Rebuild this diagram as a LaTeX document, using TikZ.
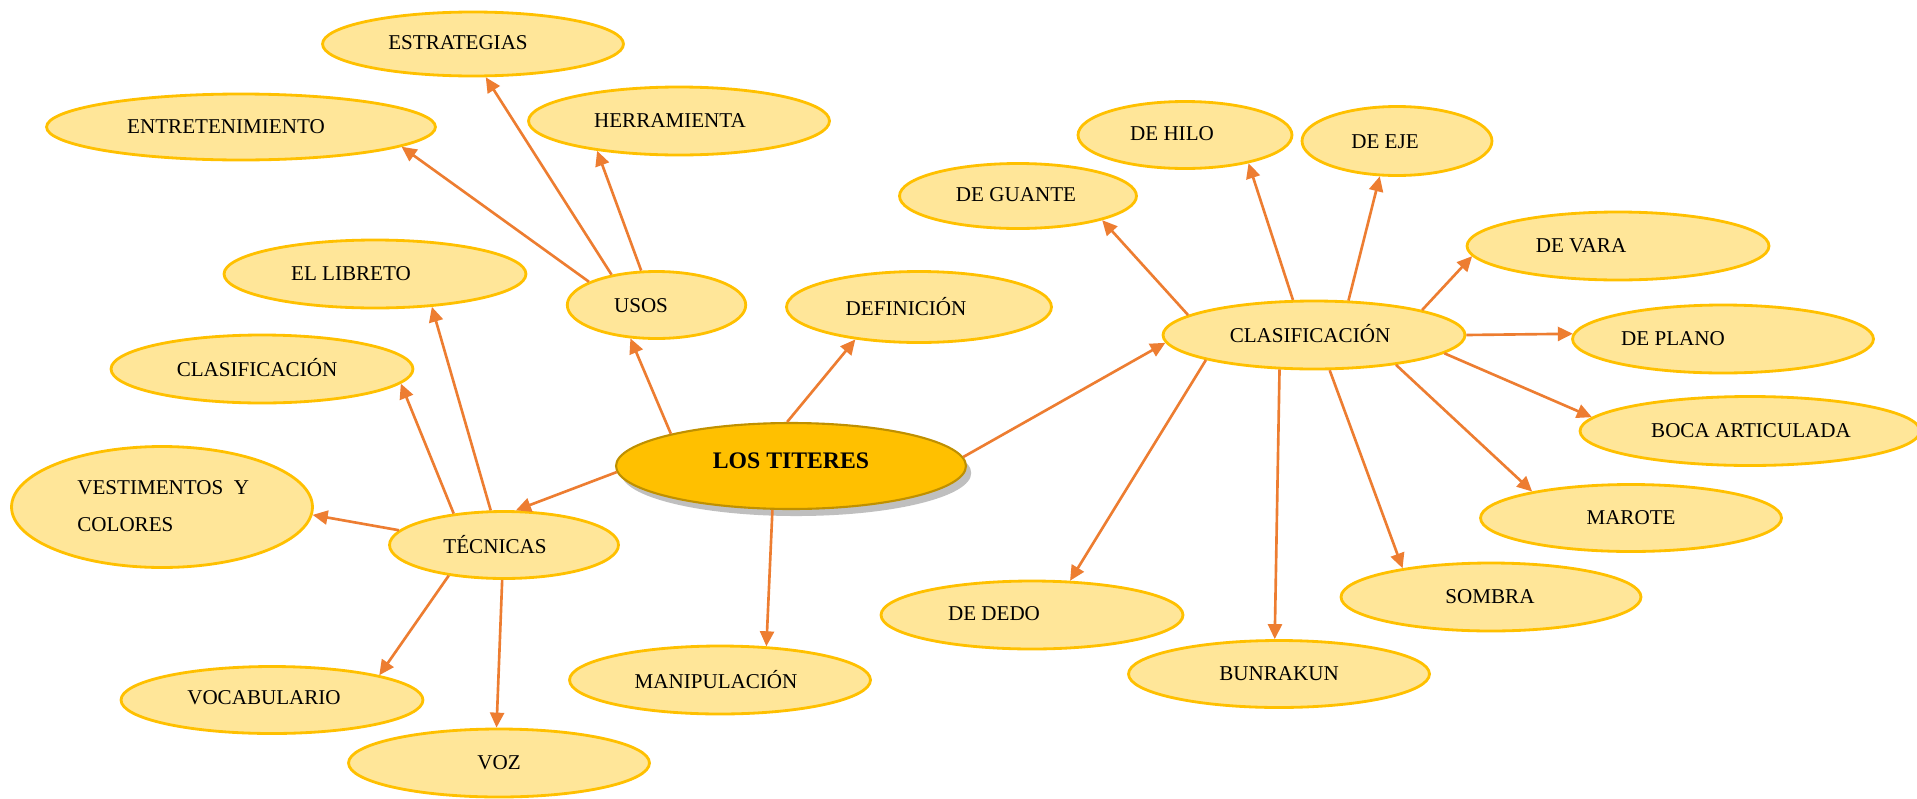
\documentclass[tikz,border=0pt]{standalone}
\usepackage{fontspec}
\setmainfont{Liberation Serif}
\usetikzlibrary{shapes.geometric,arrows.meta,shadows}
\definecolor{bubfill}{HTML}{FFE699}
\definecolor{bubline}{HTML}{FFC000}
\definecolor{mainfill}{HTML}{FFC000}
\definecolor{mainline}{HTML}{BF9000}
\definecolor{arrcol}{HTML}{ED7D31}
\tikzset{
  bub/.style={ellipse, draw=bubline, fill=bubfill, line width=1.6pt, inner sep=0pt},
  mainbub/.style={ellipse, draw=mainline, fill=mainfill, line width=1.2pt, inner sep=0pt,
    drop shadow={shadow xshift=3pt, shadow yshift=-4pt, fill=black!45, opacity=0.55}},
  lbl/.style={font=\fontsize{12}{14}\selectfont, inner sep=0pt, text=black},
  arr/.style={draw=arrcol, line width=1.5pt, -{Triangle[length=0.3cm,width=0.28cm]}}
}
\begin{document}
\begin{tikzpicture}[x=0.02cm,y=-0.02cm]
\useasboundingbox[fill=white] (0,0) rectangle (1917,798);
% central
\node[mainbub, minimum width=7.0cm, minimum height=1.72cm] (titeres) at (791,466) {};
\node[font=\fontsize{13.5}{16}\selectfont\bfseries, inner sep=0pt] (t-titeres) at (791,461) {LOS TITERES};
% left
\node[bub, minimum width=3.57cm, minimum height=1.34cm] (usos) at (656.5,305) {};
\node[lbl] (t-usos) at (641,306) {USOS};
\node[bub, minimum width=6.02cm, minimum height=1.28cm] (estrat) at (473,44) {};
\node[lbl] (t-estrat) at (458,43) {ESTRATEGIAS};
\node[bub, minimum width=6.02cm, minimum height=1.36cm] (herr) at (679,121) {};
\node[lbl] (t-herr) at (670,121) {HERRAMIENTA};
\node[bub, minimum width=7.78cm, minimum height=1.32cm] (entret) at (241,127) {};
\node[lbl] (t-entret) at (226,127) {ENTRETENIMIENTO};
\node[bub, minimum width=5.30cm, minimum height=1.42cm] (defin) at (919,307) {};
\node[lbl] (t-defin) at (906,307) {DEFINICIÓN};
\node[bub, minimum width=6.04cm, minimum height=1.36cm] (libreto) at (375,274) {};
\node[lbl] (t-libreto) at (351,274) {EL LIBRETO};
\node[bub, minimum width=6.04cm, minimum height=1.36cm] (clasL) at (262,369) {};
\node[lbl] (t-clasL) at (257,368) {CLASIFICACIÓN};
\node[bub, minimum width=6.02cm, minimum height=2.42cm] (vest) at (162,507) {};
\node[lbl, anchor=west, align=left, font=\fontsize{12}{21}\selectfont] (t-vest) at (77,506) {VESTIMENTOS~~Y\\COLORES};
\node[bub, minimum width=4.58cm, minimum height=1.34cm] (tecn) at (504,545) {};
\node[lbl] (t-tecn) at (495,545) {TÉCNICAS};
\node[bub, minimum width=6.04cm, minimum height=1.34cm] (vocab) at (272,700) {};
\node[lbl] (t-vocab) at (264,698) {VOCABULARIO};
\node[bub, minimum width=6.02cm, minimum height=1.36cm] (voz) at (499,763) {};
\node[lbl] (t-voz) at (499,763) {VOZ};
\node[bub, minimum width=6.02cm, minimum height=1.36cm] (manip) at (720,680) {};
\node[lbl] (t-manip) at (716,680) {MANIPULACIÓN};
% right
\node[bub, minimum width=6.04cm, minimum height=1.36cm] (clasR) at (1314,335) {};
\node[lbl] (t-clasR) at (1310,334) {CLASIFICACIÓN};
\node[bub, minimum width=4.74cm, minimum height=1.30cm] (guante) at (1018,196) {};
\node[lbl] (t-guante) at (1016,195) {DE GUANTE};
\node[bub, minimum width=4.28cm, minimum height=1.34cm] (hilo) at (1185,135) {};
\node[lbl] (t-hilo) at (1172,134) {DE HILO};
\node[bub, minimum width=3.80cm, minimum height=1.38cm] (eje) at (1397,141) {};
\node[lbl] (t-eje) at (1385,142) {DE EJE};
\node[bub, minimum width=6.04cm, minimum height=1.36cm] (vara) at (1618,246) {};
\node[lbl] (t-vara) at (1581,246) {DE VARA};
\node[bub, minimum width=6.02cm, minimum height=1.36cm] (plano) at (1723,339) {};
\node[lbl] (t-plano) at (1673,339) {DE PLANO};
\node[bub, minimum width=6.80cm, minimum height=1.38cm] (boca) at (1750,431) {};
\node[lbl] (t-boca) at (1751,431) {BOCA ARTICULADA};
\node[bub, minimum width=6.02cm, minimum height=1.34cm] (marote) at (1631,518) {};
\node[lbl] (t-marote) at (1631,518) {MAROTE};
\node[bub, minimum width=6.00cm, minimum height=1.36cm] (sombra) at (1491,597) {};
\node[lbl] (t-sombra) at (1490,597) {SOMBRA};
\node[bub, minimum width=6.02cm, minimum height=1.34cm] (bunrak) at (1279,674) {};
\node[lbl] (t-bunrak) at (1279,674) {BUNRAKUN};
\node[bub, minimum width=6.04cm, minimum height=1.36cm] (dedo) at (1032,615) {};
\node[lbl] (t-dedo) at (994,614) {DE DEDO};
% connectors: usos
\draw[arr] (usos.146) -- (estrat.-69);
\draw[arr] (usos.161) -- (entret.-7.6);
\draw[arr] (usos.114) -- (herr.200);
% central
\draw[arr] (titeres.165) -- (usos.232);
\draw[arr] (titeres.95) -- (defin.207);
\draw[arr] (titeres.3.3) -- (clasR.183.6);
\draw[arr] (titeres.182) -- (tecn.71);
\draw[arr] (titeres.247) -- (manip.36);
% tecnicas
\draw[arr] (tecn.111) -- (libreto.-30.6);
\draw[arr] (tecn.148) -- (clasL.-6.4);
\draw[arr] (tecn.172) -- (vest.-3.7);
\draw[arr] (tecn.209) -- (vocab.13.5);
\draw[arr] (tecn.267) -- (voz.94.4);
% clasificacion right
\draw[arr] (clasR.171) -- (guante.-16.8);
\draw[arr] (clasR.121.6) -- (hilo.-24.7);
\draw[arr] (clasR.45.8) -- (eje.244);
\draw[arr] (clasR.13) -- (vara.184.6);
\draw[arr] (clasR.0) -- (plano.178.8);
\draw[arr] (clasR.-8.6) -- (boca.175.5);
\draw[arr] (clasR.-20) -- (marote.165.7);
\draw[arr] (clasR.-66.6) -- (sombra.162.4);
\draw[arr] (clasR.225.9) -- (bunrak.97.7);
\draw[arr] (clasR.193.2) -- (dedo.42.4);
\end{tikzpicture}
\end{document}
